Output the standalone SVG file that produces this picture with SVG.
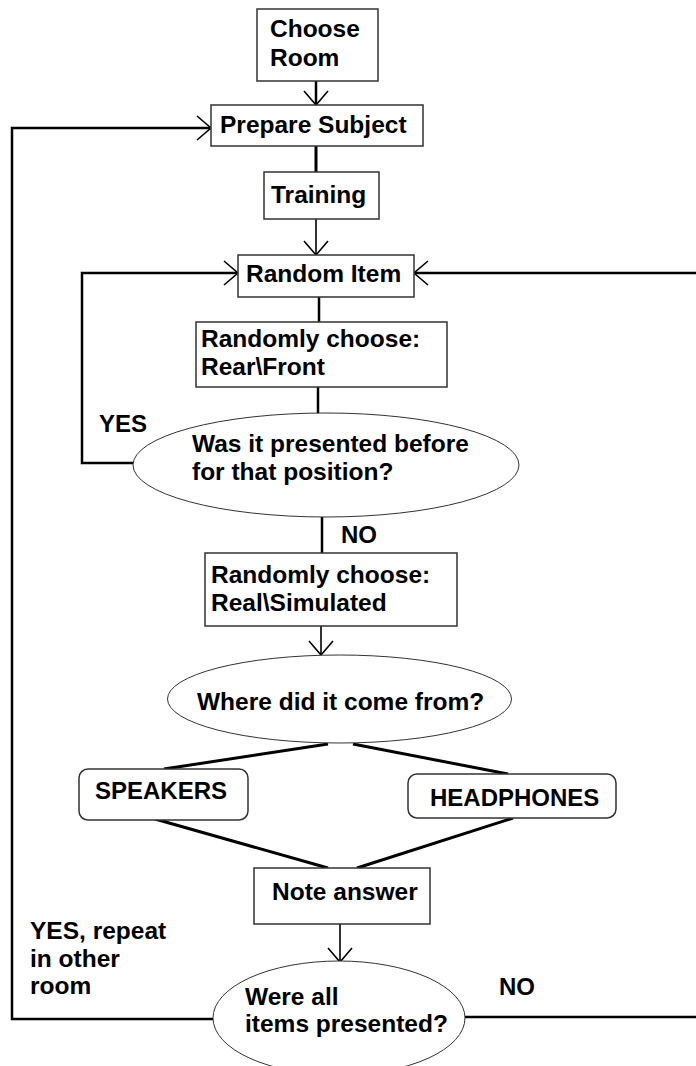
<svg xmlns="http://www.w3.org/2000/svg" width="696" height="1066" viewBox="0 0 696 1066">
  <style>
    .box { fill: #ffffff; stroke: #333333; stroke-width: 1.5; }
    .oval { fill: #ffffff; stroke: #333333; stroke-width: 1; }
    .t { font-family: "Liberation Sans", Arial, sans-serif; font-weight: bold; font-size: 24.5px; fill: #000000; }
    .caps { font-size: 24px; }
    .c { fill: none; stroke: #000000; stroke-width: 2.5; }
    .thin { stroke-width: 1.6; }
    .thick { stroke-width: 3; }
  </style>
  <defs>
    <marker id="arrow" markerUnits="userSpaceOnUse" markerWidth="30" markerHeight="30" viewBox="-16 -15 20 30" refX="0" refY="0" orient="auto">
      <path d="M-14,-12 L0,0 L-14,12" fill="none" stroke="#000000" stroke-width="1.6"/>
    </marker>
  </defs>

  <!-- connectors -->
  <g id="connectors">
    <line class="c" x1="316" y1="81" x2="316" y2="105" marker-end="url(#arrow)"/>
    <line class="c thick" x1="316" y1="146" x2="316" y2="172"/>
    <line class="c thin" x1="316" y1="219" x2="316" y2="255" marker-end="url(#arrow)"/>
    <line class="c" x1="319" y1="297" x2="319" y2="322"/>
    <line class="c" x1="318" y1="387" x2="318" y2="413"/>
    <path class="c" d="M133,463 H82 V273 H238" marker-end="url(#arrow)"/>
    <line class="c" x1="322" y1="517" x2="322" y2="553"/>
    <line class="c thin" x1="321" y1="626" x2="321" y2="655" marker-end="url(#arrow)"/>
    <line class="c thick" x1="328" y1="744" x2="164" y2="769"/>
    <line class="c thick" x1="353" y1="744" x2="508" y2="774"/>
    <line class="c thick" x1="155" y1="819" x2="328" y2="868"/>
    <line class="c thick" x1="513" y1="818" x2="357" y2="868"/>
    <line class="c thin" x1="340" y1="924" x2="340" y2="962" marker-end="url(#arrow)"/>
    <path class="c" d="M213,1019 H12 V128 H211" marker-end="url(#arrow)"/>
    <path class="c" d="M465,1017 H699 V273 H414" marker-end="url(#arrow)"/>
  </g>

  <g id="choose-room">
    <rect class="box" x="257" y="9" width="121" height="72"/>
    <text class="t" x="270" y="37">Choose</text>
    <text class="t" x="270" y="66">Room</text>
  </g>

  <g id="prepare-subject">
    <rect class="box" x="211" y="105" width="212" height="41"/>
    <text class="t" x="220" y="133">Prepare Subject</text>
  </g>

  <g id="training">
    <rect class="box" x="264" y="172" width="115" height="47"/>
    <text class="t" x="271" y="203">Training</text>
  </g>

  <g id="random-item">
    <rect class="box" x="238" y="255" width="176" height="42"/>
    <text class="t" x="246" y="282">Random Item</text>
  </g>

  <g id="choose-rear-front">
    <rect class="box" x="196" y="322" width="251" height="65"/>
    <text class="t" x="201" y="347">Randomly choose:</text>
    <text class="t" x="201" y="375">Rear\Front</text>
  </g>

  <g id="presented-before">
    <ellipse class="oval" cx="326" cy="465" rx="193" ry="52"/>
    <text class="t" x="192" y="452">Was it presented before</text>
    <text class="t" x="192" y="480">for that position?</text>
  </g>

  <g id="label-yes">
    <text class="t caps" x="99" y="432">YES</text>
  </g>

  <g id="label-no-1">
    <text class="t caps" x="341" y="543">NO</text>
  </g>

  <g id="choose-real-simulated">
    <rect class="box" x="205" y="553" width="252" height="73"/>
    <text class="t" x="211" y="583">Randomly choose:</text>
    <text class="t" x="211" y="611">Real\Simulated</text>
  </g>

  <g id="where-from">
    <ellipse class="oval" cx="339.5" cy="699" rx="172" ry="44"/>
    <text class="t" x="197" y="710">Where did it come from?</text>
  </g>

  <g id="speakers">
    <rect class="box" x="79" y="769" width="169" height="51" rx="9"/>
    <text class="t caps" x="95" y="799">SPEAKERS</text>
  </g>

  <g id="headphones">
    <rect class="box" x="408" y="774" width="208" height="44" rx="9"/>
    <text class="t caps" x="430" y="806">HEADPHONES</text>
  </g>

  <g id="note-answer">
    <rect class="box" x="254" y="868" width="176" height="56"/>
    <text class="t" x="272" y="900">Note answer</text>
  </g>

  <g id="all-presented">
    <ellipse class="oval" cx="339" cy="1018" rx="126" ry="57"/>
    <text class="t" x="245" y="1005">Were all</text>
    <text class="t" x="245" y="1032">items presented?</text>
  </g>

  <g id="label-yes-repeat">
    <text class="t" x="30" y="939">YES, repeat</text>
    <text class="t" x="30" y="967">in other</text>
    <text class="t" x="30" y="994">room</text>
  </g>

  <g id="label-no-2">
    <text class="t caps" x="499" y="995">NO</text>
  </g>
</svg>
